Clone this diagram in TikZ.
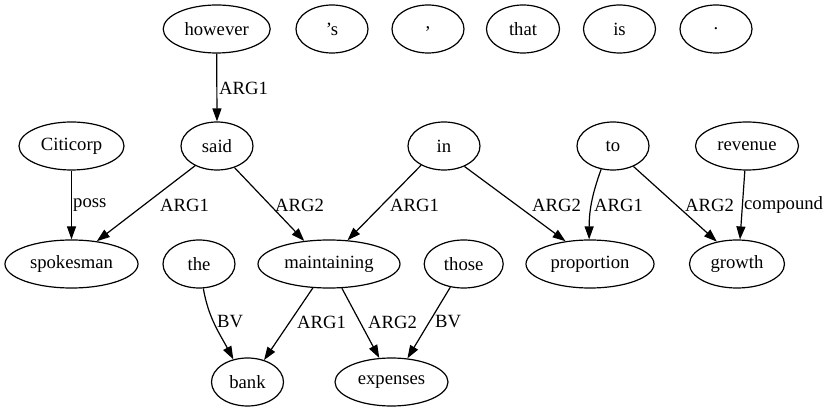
\documentclass[tikz,border=0pt]{standalone}
\usepackage{fontspec}
\setmainfont{Liberation Serif}
\newfontfamily\gvfont{Liberation Serif}
\usetikzlibrary{arrows.meta,shapes.geometric}
\begin{document}
\begin{tikzpicture}[x=1pt,y=1pt,
  ell/.style={draw, ellipse, line width=1.2pt, inner sep=0pt, minimum width=72pt, minimum height=48pt, font=\gvfont\fontsize{18.67}{22}\selectfont},
  lbl/.style={anchor=west, inner sep=0pt, font=\gvfont\fontsize{18.67}{22}\selectfont},
  edge/.style={-{Triangle[length=13pt,width=9pt]}, line width=1.2pt}]
\useasboundingbox (0,0) rectangle (825,-411);
% row 1
\node[ell, minimum width=107pt] (however) at (216.7,-29) {however};
\node[ell] (poss) at (332,-29) {’s};
\node[ell] (comma) at (428,-29) {,};
\node[ell, minimum width=73pt] (that) at (523,-29) {that};
\node[ell] (is) at (619.5,-29) {is};
\node[ell] (period) at (716,-29) {.};
% row 2
\node[ell, minimum width=105pt] (citicorp) at (71.5,-146) {Citicorp};
\node[ell] (said) at (217,-146) {said};
\node[ell] (in) at (444,-146) {in};
\node[ell] (to) at (613,-146) {to};
\node[ell, minimum width=103pt] (revenue) at (747,-146) {revenue};
% row 3
\node[ell, minimum width=133pt] (spokesman) at (71.5,-264) {spokesman};
\node[ell] (the) at (199,-264) {the};
\node[ell, minimum width=142pt] (maintaining) at (329,-264) {maintaining};
\node[ell, minimum width=79pt] (those) at (463.7,-264) {those};
\node[ell, minimum width=128pt] (proportion) at (590,-264) {proportion};
\node[ell, minimum width=95pt] (growth) at (737,-264) {growth};
% row 4
\node[ell] (bank) at (247.5,-382) {bank};
\node[ell, minimum width=113pt] (expenses) at (391.5,-382) {expenses};
% edges
\draw[edge] (however.south) -- (said.north);
\draw[edge] (citicorp.south) -- (spokesman.north);
\draw[edge] (said.222) -- (spokesman.42);
\draw[edge] (said.309) -- (maintaining.137);
\draw[edge] (in.220) -- (maintaining.52);
\draw[edge] (in.315) -- (proportion.137);
\draw[edge] (to.243) to[out=250,in=90] (proportion.92);
\draw[edge] (to.315) -- (growth.132);
\draw[edge] (revenue.265) -- (growth.83);
\draw[edge] (the.280) to[out=-80,in=118] (bank.122);
\draw[edge] (maintaining.236) -- (bank.53);
\draw[edge] (maintaining.298) -- (expenses.117);
\draw[edge] (those.240) -- (expenses.56);
% labels
\node[lbl] (l1) at (219,-88) {ARG1};
\node[lbl] (l2) at (73,-205) {poss};
\node[lbl] (l3) at (160,-205) {ARG1};
\node[lbl] (l4) at (275,-205) {ARG2};
\node[lbl] (l5) at (390,-205) {ARG1};
\node[lbl] (l6) at (532,-205) {ARG2};
\node[lbl] (l7) at (594,-205) {ARG1};
\node[lbl] (l8) at (685,-205) {ARG2};
\node[lbl] (l9) at (744,-205) {compound};
\node[lbl] (l10) at (217,-322) {BV};
\node[lbl] (l11) at (297,-322) {ARG1};
\node[lbl] (l12) at (368,-322) {ARG2};
\node[lbl] (l13) at (435,-322) {BV};
\end{tikzpicture}
\end{document}
